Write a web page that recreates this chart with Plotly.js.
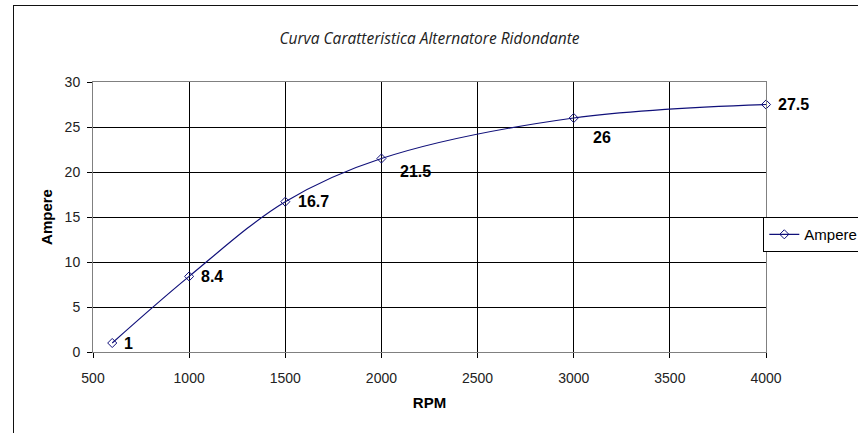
<!DOCTYPE html>
<html>
<head>
<meta charset="utf-8">
<script src="https://cdn.plot.ly/plotly-3.0.1.min.js"></script>
<style>
html,body{margin:0;padding:0;background:#fff;overflow:hidden;}
#wrap{position:relative;width:858px;height:433px;}
#chart{position:absolute;left:0;top:0;width:858px;height:433px;}
#frame{position:absolute;left:13px;top:5px;width:860px;height:440px;border-left:1.5px solid #111;border-top:1.5px solid #111;pointer-events:none;}
</style>
</head>
<body>
<div id="wrap"><div id="chart"></div><div id="frame"></div></div>
<script>
// Data
const rpm = [600, 1000, 1500, 2000, 3000, 4000];
const ampere = [1, 8.4, 16.7, 21.5, 26, 27.5];
const labels = ['1', '8.4', '16.7', '21.5', '26', '27.5'];
const seriesName = 'Ampere';
const chartTitle = 'Curva Caratteristica Alternatore Ridondante';
const xTitle = 'RPM';
const yTitle = 'Ampere';

// Label placement offsets (pixels), style only
const labelDx = [10, 10, 11, 17, 17, 10];
const labelDy = [0, 0, 0, -13, -19, 0];

const navy = '#10107a';

const trace = {
  x: rpm, y: ampere, name: seriesName, type: 'scatter', mode: 'lines+markers',
  line: {color: navy, width: 1.2, shape: 'spline', smoothing: 1},
  marker: {symbol: 'diamond-open', size: 7, color: navy, line: {width: 1, color: navy}},
  cliponaxis: false
};

const annotations = rpm.map((x, i) => ({
  x: x, y: ampere[i], xref: 'x', yref: 'y', text: labels[i],
  showarrow: false, xanchor: 'left', yanchor: 'middle',
  xshift: labelDx[i], yshift: labelDy[i],
  font: {family: 'Liberation Sans, Arial, sans-serif', size: 16, color: '#000', weight: 'bold'}
}));

const axisCommon = {
  showgrid: true, gridcolor: '#000', gridwidth: 1,
  showline: true, linecolor: '#808080', linewidth: 1, mirror: true,
  ticks: 'outside', ticklen: 5, tickcolor: '#000', tickwidth: 1,
  zeroline: false,
  tickfont: {family: 'Liberation Sans, Arial, sans-serif', size: 14, color: '#222'}
};

const layout = {
  width: 858, height: 433,
  margin: {l: 93, r: 92, t: 82, b: 81, autoexpand: false},
  paper_bgcolor: '#fff', plot_bgcolor: '#fff',
  title: {text: chartTitle, x: 0.5, xref: 'paper', xanchor: 'center', y: 1 - 39/433, yref: 'container', yanchor: 'middle',
    font: {family: 'Open Sans, sans-serif', size: 15.5, color: '#222', style: 'italic'}},
  xaxis: Object.assign({}, axisCommon, {
    range: [500, 4000], dtick: 500, tick0: 500, ticklabelstandoff: 8,
    title: {text: xTitle, standoff: 12, font: {family: 'Liberation Sans, Arial, sans-serif', size: 15, color: '#000', weight: 'bold'}}
  }),
  yaxis: Object.assign({}, axisCommon, {
    range: [0, 30], dtick: 5, ticklabelstandoff: 4,
    title: {text: yTitle, standoff: 8, font: {family: 'Liberation Sans, Arial, sans-serif', size: 15, color: '#000', weight: 'bold'}}
  }),
  showlegend: true,
  legend: {x: 0.996, xanchor: 'left', y: 0.435, yanchor: 'middle',
    bordercolor: '#000', borderwidth: 1, bgcolor: '#fff',
    font: {family: 'Liberation Sans, Arial, sans-serif', size: 15, color: '#000'}},
  annotations: annotations
};

Plotly.newPlot('chart', [trace], layout, {staticPlot: true, displayModeBar: false});
</script>
</body>
</html>
